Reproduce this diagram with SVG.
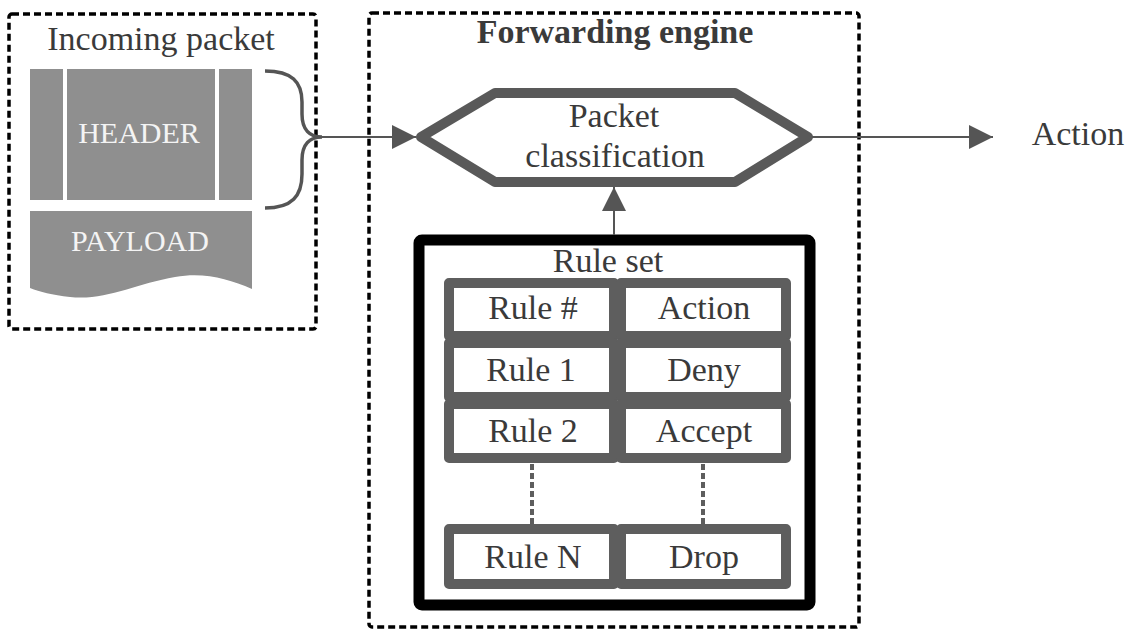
<svg xmlns="http://www.w3.org/2000/svg" width="1128" height="632" viewBox="0 0 1128 632">
  <style>
    .lbl { font-family: "Liberation Serif", "Times New Roman", serif; font-size: 34px; fill: #3a3a3a; text-anchor: middle; }
    .bold { font-weight: bold; }
    .inv { font-family: "Liberation Serif", "Times New Roman", serif; font-size: 30px; fill: #f4f4f4; text-anchor: middle; }
    .frame { fill: none; stroke: #000; stroke-width: 3.5; stroke-dasharray: 7 4; }
    .pkt { fill: #8f8f8f; }
    .cell { fill: #fff; stroke: #5e5e5e; stroke-width: 10; stroke-linejoin: round; }
    .wire { fill: none; stroke: #555; stroke-width: 2; }
    .dots { fill: none; stroke: #5e5e5e; stroke-width: 4; stroke-dasharray: 6 3; }
  </style>
  <defs>
    <marker id="arrow" viewBox="0 0 24 24" refX="24" refY="12" markerWidth="24" markerHeight="24" markerUnits="userSpaceOnUse" orient="auto">
      <path d="M0,0 L24,12 L0,24 Z" fill="#555"/>
    </marker>
  </defs>

  <rect width="1128" height="632" fill="#fff"/>

  <!-- incoming packet -->
  <g id="incoming-packet">
    <rect class="frame" x="9" y="14" width="307" height="315" rx="3"/>
    <text class="lbl" x="161" y="50">Incoming packet</text>
    <rect class="pkt" x="30" y="69" width="33" height="131"/>
    <rect class="pkt" x="67" y="69" width="148" height="131"/>
    <rect class="pkt" x="219" y="69" width="33" height="131"/>
    <text class="inv" x="139" y="143">HEADER</text>
    <path class="pkt" d="M30,211 H252 V289 C228,279 205,272 175,277 C135,284 105,301 70,297 C52,295 40,292 30,288 Z"/>
    <text class="inv" x="140" y="251">PAYLOAD</text>
    <path d="M265,71 C292,71 302,82 302,102 L302,114 C302,130 310,137 322,137 C310,137 302,144 302,160 L302,174 C302,196 292,208 265,208" fill="none" stroke="#555" stroke-width="3.5"/>
  </g>

  <!-- forwarding engine -->
  <g id="forwarding-engine">
    <rect class="frame" x="369" y="13" width="490" height="614" rx="3"/>
    <text class="lbl bold" x="615" y="43">Forwarding engine</text>
  </g>

  <g id="packet-classification">
    <path d="M421,137 L495,93 L735,93 L808,137 L735,182 L495,182 Z" fill="#fff" stroke="#595959" stroke-width="10" stroke-linejoin="round"/>
    <text class="lbl" x="614" y="127">Packet</text>
    <text class="lbl" x="615" y="167">classification</text>
  </g>

  <g id="rule-set">
    <rect x="419" y="240" width="391" height="365" rx="3" fill="#fff" stroke="#000" stroke-width="11"/>
    <text class="lbl" x="608" y="272">Rule set</text>

    <rect class="cell" x="449" y="283" width="165" height="53"/>
    <rect class="cell" x="621" y="283" width="165" height="53"/>
    <rect class="cell" x="449" y="343" width="165" height="54"/>
    <rect class="cell" x="621" y="343" width="165" height="54"/>
    <rect class="cell" x="449" y="404" width="165" height="54"/>
    <rect class="cell" x="621" y="404" width="165" height="54"/>
    <rect class="cell" x="449" y="529" width="165" height="55"/>
    <rect class="cell" x="621" y="529" width="165" height="55"/>

    <text class="lbl" x="533" y="319">Rule #</text>
    <text class="lbl" x="704" y="319">Action</text>
    <text class="lbl" x="531" y="381">Rule 1</text>
    <text class="lbl" x="704" y="381">Deny</text>
    <text class="lbl" x="533" y="442">Rule 2</text>
    <text class="lbl" x="704" y="442">Accept</text>
    <text class="lbl" x="533" y="568">Rule N</text>
    <text class="lbl" x="704" y="568">Drop</text>

    <line class="dots" x1="532" y1="464" x2="532" y2="524"/>
    <line class="dots" x1="703" y1="464" x2="703" y2="524"/>
  </g>

  <g id="action-output">
    <text class="lbl" x="1078" y="145">Action</text>
  </g>

  <!-- connectors -->
  <g id="connectors">
    <line class="wire" x1="322" y1="137" x2="416" y2="137" marker-end="url(#arrow)"/>
    <line class="wire" x1="614" y1="235" x2="614" y2="187" marker-end="url(#arrow)"/>
    <line class="wire" x1="812" y1="137" x2="993" y2="137" marker-end="url(#arrow)"/>
  </g>
</svg>
